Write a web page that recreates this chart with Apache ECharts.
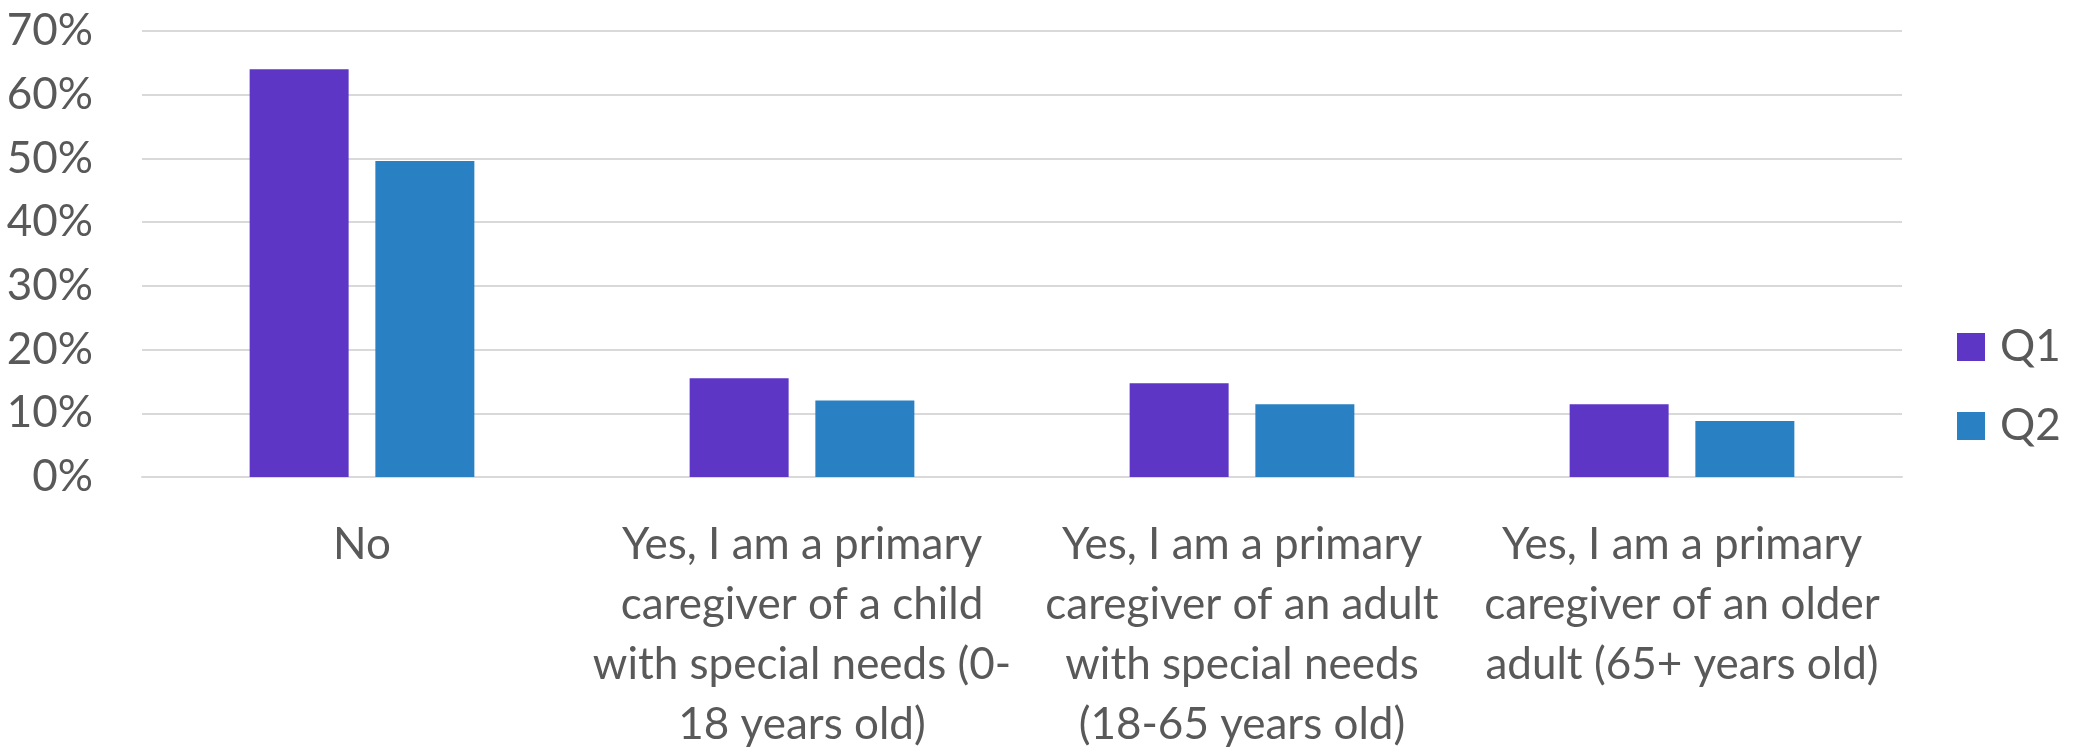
<!DOCTYPE html>
<html>
<head>
<meta charset="utf-8">
<script src="https://cdn.jsdelivr.net/npm/echarts@6/dist/echarts.min.js"></script>
<style>
html,body{margin:0;padding:0;background:#fff;}
#chart{width:2074px;height:755px;}
</style>
</head>
<body>
<div id="chart"></div>
<script>
const categories = [
  "No",
  "Yes, I am a primary\ncaregiver of a child\nwith special needs (0-\n18 years old)",
  "Yes, I am a primary\ncaregiver of an adult\nwith special needs\n(18-65 years old)",
  "Yes, I am a primary\ncaregiver of an older\nadult (65+ years old)"
];
const seriesNames = ["Q1", "Q2"];
const q1Values = [64.0, 15.5, 14.7, 11.4];
const q2Values = [49.6, 12.0, 11.4, 8.8];
const yTicks = [0, 10, 20, 30, 40, 50, 60, 70];

const textColor = "#595959";
const fontFamily = "Lato, 'Open Sans', sans-serif";

const chart = echarts.init(document.getElementById("chart"), null, {renderer: "canvas"});
chart.setOption({
  animation: false,
  textStyle: {fontFamily: fontFamily, color: textColor},
  grid: {left: 142, right: 172, top: 31, bottom: 278, containLabel: false},
  legend: {
    orient: "vertical",
    left: 1952,
    top: 320,
    itemWidth: 28,
    itemHeight: 28,
    itemGap: 35,
    icon: "rect",
    data: seriesNames,
    textStyle: {fontSize: 44, lineHeight: 44, color: textColor, fontFamily: fontFamily, padding: [0, 0, 0, 10]}
  },
  xAxis: {
    type: "category",
    data: categories,
    axisLine: {show: true, lineStyle: {color: "#D9D9D9", width: 2}},
    axisTick: {show: false},
    axisLabel: {
      interval: 0,
      fontSize: 44,
      lineHeight: 60,
      color: textColor,
      fontFamily: fontFamily,
      margin: 38,
      align: "center"
    }
  },
  yAxis: {
    type: "value",
    min: yTicks[0],
    max: yTicks[yTicks.length - 1],
    interval: 10,
    axisLine: {show: false},
    axisTick: {show: false},
    splitLine: {lineStyle: {color: "#D9D9D9", width: 2}},
    axisLabel: {
      formatter: "{value}%",
      fontSize: 44,
      color: textColor,
      fontFamily: fontFamily,
      margin: 49
    }
  },
  series: [
    {name: seriesNames[0], type: "bar", data: q1Values, barWidth: 99, barGap: "27%", itemStyle: {color: "#5D36C6"}},
    {name: seriesNames[1], type: "bar", data: q2Values, barWidth: 99, barGap: "27%", itemStyle: {color: "#2980C3"}}
  ]
});
</script>
</body>
</html>
